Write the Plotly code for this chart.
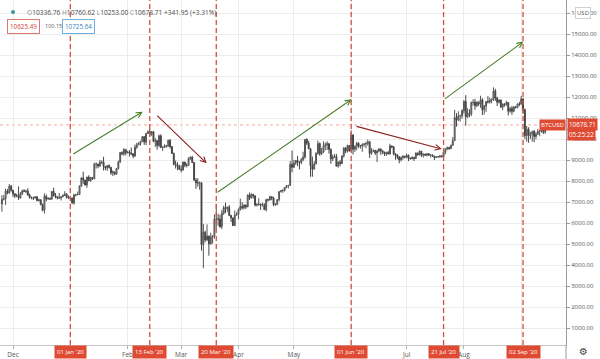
import pandas as pd
import plotly.graph_objects as go

# ---------------- data (daily BTCUSD, 2019-11-25 .. 2020-09-14) ----------------
start_date = "2019-11-25"

opens = [
    6910, 7130, 7160, 7520, 7430, 7760,
    7570, 7400, 7300, 7300, 7200, 7390, 7540, 7510, 7530, 7340, 7220, 7200, 7190, 7250, 7070, 7110,
    6880, 6610, 7280, 7150, 7190, 7140, 7510, 7320, 7250, 7200, 7200, 7250, 7320, 7390, 7220,
    7190, 7200, 6960, 7340, 7350, 7360, 7760, 8150, 8050, 7820, 8200, 8020, 8180, 8110, 8810, 8810,
    8720, 8900, 8910, 8700, 8630, 8740, 8660, 8390, 8440, 8330, 8600, 8900, 9360, 9300, 9510,
    9350, 9390, 9340, 9290, 9190, 9620, 9730, 9800, 9890, 10120, 9860, 10270, 10360, 10240, 10360,
    9900, 9930, 9700, 10160, 9600, 9610, 9690, 9660, 9950, 9650, 9320, 8800, 8780, 8710,
    8560, 8530, 8910, 8760, 8750, 9080, 9150, 8890, 8040, 7920, 7910, 7920, 4970, 5560, 5200,
    5390, 5010, 5330, 5400, 6190, 6200, 6190, 5830, 6470, 6740, 6690, 6760, 6370, 6250, 5880, 6390,
    6420, 6640, 6790, 6730, 6860, 6770, 7340, 7200, 7370, 7300, 6860, 6880, 6910, 6860, 6880,
    6640, 7120, 7100, 7260, 7190, 6880, 6880, 7120, 7500, 7550, 7560, 7700, 7790, 7800, 8800,
    8660, 8860, 8990, 8910, 8890, 9030, 9150, 9990, 9810, 9540, 8730, 8570, 8820, 9320, 9790,
    9310, 9380, 9670, 9730, 9780, 9510, 9060, 9170, 9180, 8720, 8900, 8840, 9200, 9580, 9430, 9700,
    9450, 10200, 9520, 9670, 9800, 9660, 9670, 9740, 9780, 9790, 9870, 9320, 9470, 9470, 9340,
    9430, 9530, 9450, 9380, 9300, 9360, 9290, 9680, 9630, 9300, 9250, 9160, 9010, 9120, 9190,
    9140, 9240, 9090, 9060, 9130, 9080, 9340, 9250, 9430, 9240, 9290, 9240, 9300, 9240, 9250,
    9190, 9130, 9150, 9170, 9210, 9160, 9390, 9540, 9610, 9550, 9710, 9930, 11030, 10910, 11100, 11110,
    11350, 11800, 11070, 11230, 11190, 11750, 11760, 11600, 11760, 11680, 11880, 11400, 11570, 11790, 11770,
    11860, 11910, 12300, 11960, 11760, 11870, 11520, 11680, 11650, 11750, 11330, 11460, 11330, 11540, 11510, 11680,
    11660, 11920, 11400, 10170, 10470, 10170, 10260, 10370, 10130, 10240, 10360, 10400, 10440, 10336.76,
]
highs = [
    7330, 7330, 7650, 7620, 7860, 7820,
    7570, 7420, 7400, 7750, 7480, 7590, 7620, 7580, 7660, 7400, 7260, 7260, 7290, 7270, 7160,
    7130, 6930, 7420, 7370, 7220, 7200, 7520, 7690, 7430, 7270, 7430, 7280, 7370, 7520, 7410, 7320,
    7250, 7210, 7400, 7400, 7500, 7800, 8200, 8450, 8050, 8200, 8280, 8190, 8190, 8880, 8890,
    8830, 9010, 8990, 9160, 8710, 8770, 8800, 8670, 8510, 8450, 8600, 8980, 9390, 9420, 9570, 9530,
    9440, 9480, 9600, 9340, 9740, 9830, 9860, 9930, 10150, 10150, 10300, 10420, 10500, 10380,
    10380, 10060, 9960, 10220, 10230, 9660, 9760, 9700, 9970, 10000, 9650, 9360, 8980, 8900, 8780,
    8750, 8930, 8920, 8850, 9140, 9170, 9190, 8900, 8150, 8140, 7980, 7960, 5960, 5640, 5940,
    5390, 5540, 5420, 6420, 6920, 6450, 6390, 6620, 6830, 6980, 6790, 6860, 6370, 6250, 6600, 6520,
    6700, 7170, 7000, 6890, 6880, 7360, 7460, 7420, 7380, 7310, 6950, 7190, 6910, 6980, 6940,
    7160, 7160, 7300, 7260, 7250, 6950, 7150, 7530, 7570, 7610, 7710, 7790, 7800, 8950, 9460,
    9010, 9000, 9200, 8950, 9100, 9400, 9990, 10040, 9920, 9570, 9170, 8950, 9380, 9930, 9840,
    9580, 9890, 9840, 9900, 9820, 9560, 9260, 9300, 9290, 8950, 9010, 9220, 9620, 9610, 9740, 9700,
    10420, 10230, 9690, 9880, 9850, 9730, 9800, 9790, 9880, 9980, 9920, 9580, 9500, 9480, 9500,
    9580, 9560, 9480, 9400, 9400, 9440, 9780, 9690, 9670, 9330, 9280, 9190, 9180, 9230, 9200,
    9310, 9260, 9130, 9190, 9140, 9370, 9360, 9460, 9430, 9310, 9300, 9330, 9340, 9280, 9270,
    9210, 9180, 9190, 9230, 9220, 9420, 9550, 9640, 9630, 9740, 10100, 11400, 11240, 11330, 11160, 11430,
    11860, 12100, 11480, 11420, 11790, 11900, 11920, 11810, 11800, 12070, 11950, 11630, 11800, 12050, 11970,
    11930, 12470, 12400, 12020, 11890, 11880, 11690, 11710, 11830, 11770, 11530, 11590, 11560, 11580, 11700, 11780,
    12060, 11950, 11460, 10630, 10570, 10340, 10400, 10440, 10350, 10490, 10410, 10470, 10570, 10760.62,
]
lows = [
    6540, 7080, 6860, 7370, 7410, 7500,
    7250, 7200, 7240, 7100, 7170, 7340, 7480, 7420, 7300, 7170, 7140, 7100, 7180, 7050, 7030,
    6850, 6560, 6450, 7040, 7110, 7120, 7130, 7270, 7180, 7130, 7160, 7080, 7250, 7290, 7180, 7150,
    7150, 6920, 6870, 7270, 7330, 7350, 7730, 7870, 7780, 7680, 8000, 7960, 8060, 8100, 8600,
    8620, 8680, 8820, 8510, 8520, 8490, 8600, 8300, 8240, 8280, 8300, 8560, 8880, 9230, 9210, 9230,
    9320, 9170, 9250, 9090, 9170, 9540, 9720, 9690, 9880, 9730, 9720, 10260, 10120, 10160,
    9850, 9630, 9500, 9620, 9600, 9440, 9580, 9600, 9650, 9550, 9300, 8750, 8600, 8520, 8560,
    8420, 8500, 8660, 8660, 8750, 9010, 8860, 8030, 7630, 7740, 7590, 4690, 3850, 5090, 5150,
    4450, 4970, 5020, 5260, 5730, 5870, 5770, 5710, 6390, 6470, 6540, 6330, 6050, 5860, 5870, 6350,
    6180, 6600, 6650, 6650, 6680, 6770, 7100, 7170, 7170, 6790, 6790, 6830, 6630, 6790, 6630,
    6550, 7030, 7080, 7090, 6800, 6830, 6860, 7040, 7460, 7440, 7500, 7660, 7660, 7770, 8420,
    8640, 8770, 8720, 8560, 8800, 8950, 9060, 9720, 9530, 8210, 8210, 8560, 8800, 9260, 9200,
    9250, 9340, 9470, 9480, 9320, 8830, 8950, 9100, 8690, 8640, 8700, 8810, 9120, 9330, 9360, 9400,
    9410, 9270, 9390, 9470, 9580, 9550, 9400, 9640, 9570, 9690, 9110, 9260, 9390, 9250, 8910,
    9370, 9250, 9290, 9200, 9200, 9280, 9280, 9570, 9220, 9020, 9050, 8850, 8940, 9020, 9090,
    9090, 8950, 9040, 9050, 8960, 9060, 9220, 9230, 9150, 9120, 9200, 9170, 9210, 9130, 9160,
    9000, 9100, 9120, 9110, 9130, 9150, 9280, 9480, 9490, 9540, 9680, 9920, 10600, 10860, 10840, 10980,
    11220, 10640, 11010, 11050, 11100, 11600, 11400, 11530, 11580, 11500, 11150, 11180, 11300, 11700, 11700,
    11710, 11820, 11820, 11580, 11700, 11510, 11380, 11550, 11590, 11130, 11260, 11160, 11280, 11460, 11470, 11570,
    11660, 11210, 10000, 9880, 9830, 10010, 9880, 9860, 10000, 10200, 10140, 10310, 10240, 10253.00,
]
closes = [
    7130, 7160, 7520, 7430, 7760, 7570,
    7400, 7300, 7300, 7200, 7390, 7540, 7510, 7530, 7340, 7220, 7200, 7190, 7250, 7070, 7110,
    6880, 6610, 7280, 7150, 7190, 7140, 7510, 7320, 7250, 7200, 7200, 7250, 7320, 7390, 7220, 7190,
    7200, 6960, 7340, 7350, 7360, 7760, 8150, 8050, 7820, 8200, 8020, 8180, 8110, 8810, 8810,
    8720, 8900, 8910, 8700, 8630, 8740, 8660, 8390, 8440, 8330, 8600, 8900, 9360, 9300, 9510, 9350,
    9390, 9340, 9290, 9190, 9620, 9730, 9800, 9890, 10120, 9860, 10270, 10360, 10240, 10360,
    9900, 9930, 9700, 10160, 9600, 9610, 9690, 9660, 9950, 9650, 9320, 8800, 8780, 8710, 8560,
    8530, 8910, 8760, 8750, 9080, 9150, 8890, 8040, 7920, 7910, 7920, 4970, 5560, 5200, 5390,
    5010, 5330, 5400, 6190, 6200, 6190, 5830, 6470, 6740, 6690, 6760, 6370, 6250, 5880, 6390, 6420,
    6640, 6790, 6730, 6860, 6770, 7340, 7200, 7370, 7300, 6860, 6880, 6910, 6860, 6880, 6640,
    7120, 7100, 7260, 7190, 6880, 6880, 7120, 7500, 7550, 7560, 7700, 7790, 7800, 8800, 8660,
    8860, 8990, 8910, 8890, 9030, 9150, 9990, 9810, 9540, 8730, 8570, 8820, 9320, 9790, 9310,
    9380, 9670, 9730, 9780, 9510, 9060, 9170, 9180, 8720, 8900, 8840, 9200, 9580, 9430, 9700, 9450,
    10200, 9520, 9670, 9800, 9660, 9670, 9740, 9780, 9790, 9870, 9320, 9470, 9470, 9340, 9430,
    9530, 9450, 9380, 9300, 9360, 9290, 9680, 9630, 9300, 9250, 9160, 9010, 9120, 9190, 9140,
    9240, 9090, 9060, 9130, 9080, 9340, 9250, 9430, 9240, 9290, 9240, 9300, 9240, 9250, 9190,
    9130, 9150, 9170, 9210, 9160, 9390, 9540, 9610, 9550, 9710, 9930, 11030, 10910, 11100, 11110, 11350,
    11800, 11070, 11230, 11190, 11750, 11760, 11600, 11760, 11680, 11880, 11400, 11570, 11790, 11770, 11860,
    11910, 12300, 11960, 11760, 11870, 11520, 11680, 11650, 11750, 11330, 11460, 11330, 11540, 11510, 11680, 11660,
    11920, 11400, 10170, 10470, 10170, 10260, 10370, 10130, 10240, 10360, 10400, 10440, 10330, 10678.71,
]
dates = pd.date_range(start_date, periods=len(closes), freq="D")

# marked dates (vertical dashed lines) and their labels
event_dates = ["2020-01-01", "2020-02-13", "2020-03-20", "2020-06-01", "2020-07-21", "2020-09-02"]
event_labels = ["01 Jan '20", "13 Feb '20", "20 Mar '20", "01 Jun '20", "21 Jul '20", "02 Sep '20"]

# trend arrows (start date, start price, end date, end price)
arrow_x0 = ["2020-01-01 19:00", "2020-02-16 05:00", "2020-03-19 22:00", "2020-06-03 02:00", "2020-07-20 22:00"]
arrow_y0 = [9250, 11190, 7420, 10630, 11870]
arrow_x1 = ["2020-02-09 05:00", "2020-03-14 20:00", "2020-06-01 07:00", "2020-07-20 00:00", "2020-09-02 05:00"]
arrow_y1 = [11310, 8850, 11900, 9530, 14650]
arrow_dir = ["up", "down", "up", "down", "up"]

month_ticks = ["2019-12-01", "2020-01-01", "2020-02-01", "2020-03-01", "2020-04-01", "2020-05-01",
               "2020-06-01", "2020-07-01", "2020-08-01", "2020-09-01"]
month_labels = ["Dec", "", "Feb", "Mar", "Apr", "May", "", "Jul", "Aug", ""]
price_ticks = list(range(1000, 17000, 1000))

last_price = closes[-1]
ohlc_text = ("O", opens[-1], "H", highs[-1], "L", lows[-1], "C", closes[-1])
change, change_pct = 341.95, 3.31
bid, spread, ask = 10625.49, 100.15, 10725.64
countdown = "05:25:22"

# ---------------- figure ----------------
FONT = "Open Sans"
RED = "#df4a32"
GREEN_ARROW = "#4b7f2b"
RED_ARROW = "#8e2020"

fig = go.Figure()
fig.add_trace(go.Candlestick(
    x=dates, open=opens, high=highs, low=lows, close=closes,
    increasing=dict(line=dict(color="#555555", width=1), fillcolor="#a0a0a0"),
    decreasing=dict(line=dict(color="#444444", width=1), fillcolor="#444444"),
    whiskerwidth=0, showlegend=False, hoverinfo="skip",
))

shapes = []
annotations = []

# current price dotted line
shapes.append(dict(type="line", xref="paper", x0=0, x1=1, yref="y", y0=last_price, y1=last_price,
                   line=dict(color="#f1a9a0", width=1, dash="dot"), layer="below"))

# dashed event lines + date boxes
for d, lab in zip(event_dates, event_labels):
    shapes.append(dict(type="line", xref="x", x0=d, x1=d, yref="paper", y0=0, y1=1,
                       line=dict(color="#d1513b", width=1.3, dash="5px,3px")))
    annotations.append(dict(x=d, xref="x", y=0, yref="paper", yanchor="top", yshift=0,
                            text=lab, showarrow=False, bgcolor=RED, borderpad=2,
                            font=dict(family=FONT, size=6, color="white")))

# arrows
for x0, y0, x1, y1, dr in zip(arrow_x0, arrow_y0, arrow_x1, arrow_y1, arrow_dir):
    col = GREEN_ARROW if dr == "up" else RED_ARROW
    annotations.append(dict(x=x1, y=y1, xref="x", yref="y", ax=x0, ay=y0, axref="x", ayref="y",
                            text="", showarrow=True, arrowhead=5, arrowsize=1, arrowwidth=1.1,
                            arrowcolor=col))

# right-side axis line extension to bottom edge
shapes.append(dict(type="line", xref="paper", x0=1, x1=1, yref="paper", y0=-0.05, y1=0,
                   line=dict(color="#9a9a9a", width=1)))

# header status dot
shapes.append(dict(type="circle", xref="paper", yref="paper",
                   x0=11 / 566, x1=15 / 566, y0=(345 - 14) / 345, y1=(345 - 10) / 345,
                   fillcolor="#2a9d8f", line=dict(width=0)))

# header text
hdr = "".join(
    f"<span style='color:#8a8a8a'>{k}</span><span style='color:#4a4a4a'>{v:.2f}</span> "
    for k, v in zip(ohlc_text[0::2], ohlc_text[1::2])
)
hdr += f"<span style='color:#4a4a4a'>+{change:.2f} (+{change_pct:.2f}%)</span>"
annotations.append(dict(x=25 / 566, y=(345 - 12) / 345, xref="paper", yref="paper",
                        xanchor="left", yanchor="middle", text=hdr, showarrow=False,
                        font=dict(family=FONT, size=6.6)))
annotations.append(dict(x=7 / 566, y=(345 - 26) / 345, xref="paper", yref="paper",
                        xanchor="left", yanchor="middle", text=f"{bid:.2f}", showarrow=False,
                        bordercolor="#e07a70", borderwidth=1, borderpad=2, bgcolor="white",
                        font=dict(family=FONT, size=6.3, color="#d0453a")))
annotations.append(dict(x=43 / 566, y=(345 - 26) / 345, xref="paper", yref="paper",
                        xanchor="left", yanchor="middle", text=f"{spread:.2f}", showarrow=False,
                        font=dict(family=FONT, size=5.5, color="#555555")))
annotations.append(dict(x=62 / 566, y=(345 - 26) / 345, xref="paper", yref="paper",
                        xanchor="left", yanchor="middle", text=f"{ask:.2f}", showarrow=False,
                        bordercolor="#6fb1e0", borderwidth=1, borderpad=2, bgcolor="white",
                        font=dict(family=FONT, size=6.3, color="#2f7fc0")))

# right-side price labels
annotations.append(dict(x=1, y=last_price, xref="paper", yref="y", xanchor="right",
                        text="BTCUSD", showarrow=False, bgcolor=RED, borderpad=1,
                        font=dict(family=FONT, size=6, color="white")))
annotations.append(dict(x=1, y=last_price, xref="paper", yref="y", xanchor="left", xshift=1,
                        text=f"{last_price:.2f}", showarrow=False, bgcolor=RED, borderpad=1,
                        font=dict(family=FONT, size=6.3, color="white")))
annotations.append(dict(x=1, y=last_price, xref="paper", yref="y", xanchor="left", xshift=1, yshift=-10,
                        text=countdown, showarrow=False, bgcolor=RED, borderpad=1,
                        font=dict(family=FONT, size=6.3, color="white")))
annotations.append(dict(x=1, y=16000, xref="paper", yref="y", xanchor="left", xshift=9,
                        text="USD", showarrow=False, bgcolor="white", bordercolor="#cfcfcf",
                        borderwidth=1, borderpad=1, font=dict(family=FONT, size=6, color="#555")))
annotations.append(dict(x=1, y=-0.02, xref="paper", yref="paper", xanchor="left", xshift=11,
                        yanchor="middle", text="⚙", showarrow=False,
                        font=dict(family="DejaVu Sans", size=10, color="#444")))

fig.update_layout(
    width=600, height=359,
    margin=dict(l=0, r=34, t=0, b=14, autoexpand=False),
    paper_bgcolor="white", plot_bgcolor="white",
    shapes=shapes, annotations=annotations,
    font=dict(family=FONT, size=6.5, color="#555555"),
    xaxis=dict(
        type="date", range=["2019-11-23 23:00", "2020-09-25 06:00"],
        rangeslider=dict(visible=False),
        tickvals=month_ticks, ticktext=month_labels,
        showgrid=True, gridcolor="#ececec", gridwidth=1,
        showline=True, linecolor="#c6c6c6", linewidth=1,
        ticks="outside", ticklen=3, tickcolor="#b0b0b0",
        tickfont=dict(family=FONT, size=6.5, color="#555555"),
        zeroline=False, fixedrange=True, automargin=False,
    ),
    yaxis=dict(
        side="right", range=[190, 16633],
        tickvals=price_ticks, ticktext=[f"{v:.2f}" for v in price_ticks],
        showgrid=True, gridcolor="#ececec", gridwidth=1,
        showline=True, linecolor="#9a9a9a", linewidth=1,
        ticks="outside", ticklen=3, tickcolor="#9a9a9a",
        tickfont=dict(family=FONT, size=6, color="#555555"),
        zeroline=False, fixedrange=True, automargin=False,
    ),
)

fig.write_html("out.html", config={"displayModeBar": False},
               post_script="document.body.style.margin='0px';")
